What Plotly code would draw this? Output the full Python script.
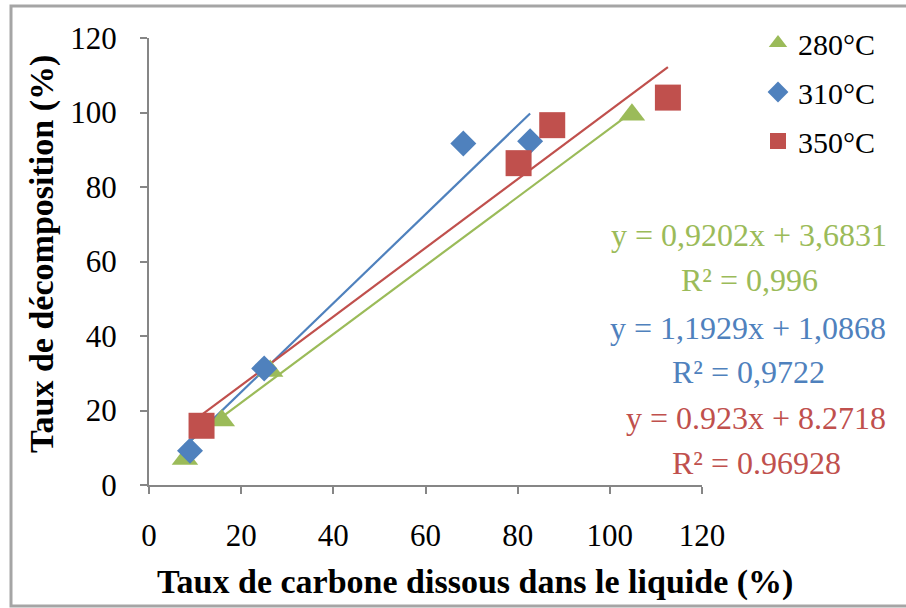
import plotly.graph_objects as go

# ---- data ----
x_280 = [7.8, 15.8, 26.3, 104.8]
y_280 = [7.0, 17.3, 30.6, 99.4]
x_310 = [8.9, 25.0, 68.2, 82.7]
y_310 = [9.2, 31.3, 91.7, 92.3]
x_350 = [11.4, 80.2, 87.5, 112.6]
y_350 = [15.9, 86.4, 96.6, 104.0]

series_names = ["280°C", "310°C", "350°C"]
colors = ["#9BBB59", "#4F81BD", "#C0504D"]
slopes = [0.9202, 1.1929, 0.923]
intercepts = [3.6831, 1.0868, 8.2718]
eq_labels = ["y = 0,9202x + 3,6831", "y = 1,1929x + 1,0868", "y = 0.923x + 8.2718"]
r2_labels = ["R² = 0,996", "R² = 0,9722", "R² = 0.96928"]

x_ticks = [0, 20, 40, 60, 80, 100, 120]
y_ticks = [0, 20, 40, 60, 80, 100, 120]

FONT = "Liberation Serif, Times New Roman, serif"

xs = [x_280, x_310, x_350]
ys = [y_280, y_310, y_350]
symbols = ["triangle-up", "diamond", "square"]
msizes = [23, 20, 26]

fig = go.Figure()

# trend lines (drawn first, beneath markers)
for i in range(3):
    x0, x1 = min(xs[i]), max(xs[i])
    fig.add_trace(go.Scatter(
        x=[x0, x1],
        y=[slopes[i] * x0 + intercepts[i], slopes[i] * x1 + intercepts[i]],
        mode="lines", line=dict(color=colors[i], width=2.2),
        showlegend=False, hoverinfo="skip"))

for i in range(3):
    fig.add_trace(go.Scatter(
        x=xs[i], y=ys[i], mode="markers", name=series_names[i],
        legendgroup=series_names[i],
        marker=dict(symbol=symbols[i], size=msizes[i], color=colors[i],
                    line=dict(width=0))))

# equation annotations
eq_y_px = [(235, 280), (328, 372), (418, 463)]
eq_x_px = [749, 748, 756]
L, R, T, B = 149, 204, 38, 123
W, H = 906, 608
pw, ph = W - L - R, H - T - B

def px_to_paper_x(px):
    return (px - L) / pw

def px_to_paper_y(py):
    return (H - B - py) / ph

for i in range(3):
    for text, py in zip([eq_labels[i], r2_labels[i]], eq_y_px[i]):
        fig.add_annotation(
            text=text, xref="paper", yref="paper",
            x=px_to_paper_x(eq_x_px[i]), y=px_to_paper_y(py),
            xanchor="center", yanchor="middle", showarrow=False,
            font=dict(family=FONT, size=32, color=colors[i]))

# axis titles
fig.add_annotation(
    text="<b>Taux de carbone dissous dans le liquide (%)</b>",
    xref="paper", yref="paper", x=px_to_paper_x(475), y=px_to_paper_y(582),
    xanchor="center", yanchor="middle", showarrow=False,
    font=dict(family=FONT, size=34, color="black"))
fig.add_annotation(
    text="<b>Taux de décomposition (%)</b>",
    xref="paper", yref="paper", x=px_to_paper_x(42), y=px_to_paper_y(254),
    xanchor="center", yanchor="middle", showarrow=False, textangle=-90,
    font=dict(family=FONT, size=34, color="black"))

# outer frame
fig.add_shape(type="rect", xref="paper", yref="paper",
              x0=px_to_paper_x(11), x1=px_to_paper_x(960),
              y0=px_to_paper_y(606), y1=px_to_paper_y(6),
              line=dict(color="#A5A5A5", width=3), fillcolor="rgba(0,0,0,0)",
              layer="below")

axis_common = dict(
    range=[0, 120], showgrid=False, zeroline=False,
    showline=True, linecolor="#868686", linewidth=2,
    ticks="outside", ticklen=7, tickcolor="#868686", tickwidth=2,
    tickfont=dict(family=FONT, size=31, color="black"),
    fixedrange=True)

fig.update_xaxes(**axis_common, tickvals=x_ticks,
                 ticktext=[str(v) for v in x_ticks], ticklabelstandoff=15)
fig.update_yaxes(**axis_common, tickvals=y_ticks,
                 ticktext=[str(v) for v in y_ticks], ticklabelstandoff=17)

fig.update_layout(
    width=W, height=H,
    margin=dict(l=L, r=R, t=T, b=B, autoexpand=False),
    paper_bgcolor="white", plot_bgcolor="white",
    font=dict(family=FONT, color="black"),
    legend=dict(x=px_to_paper_x(758), y=px_to_paper_y(17),
                xanchor="left", yanchor="top",
                font=dict(family=FONT, size=30, color="black"),
                traceorder="grouped", tracegroupgap=7,
                bgcolor="rgba(0,0,0,0)", itemwidth=30),
)

fig.write_html("out.html",
               config={"displayModeBar": False},
               post_script="document.body.style.margin='0px';document.body.style.overflow='hidden';")
